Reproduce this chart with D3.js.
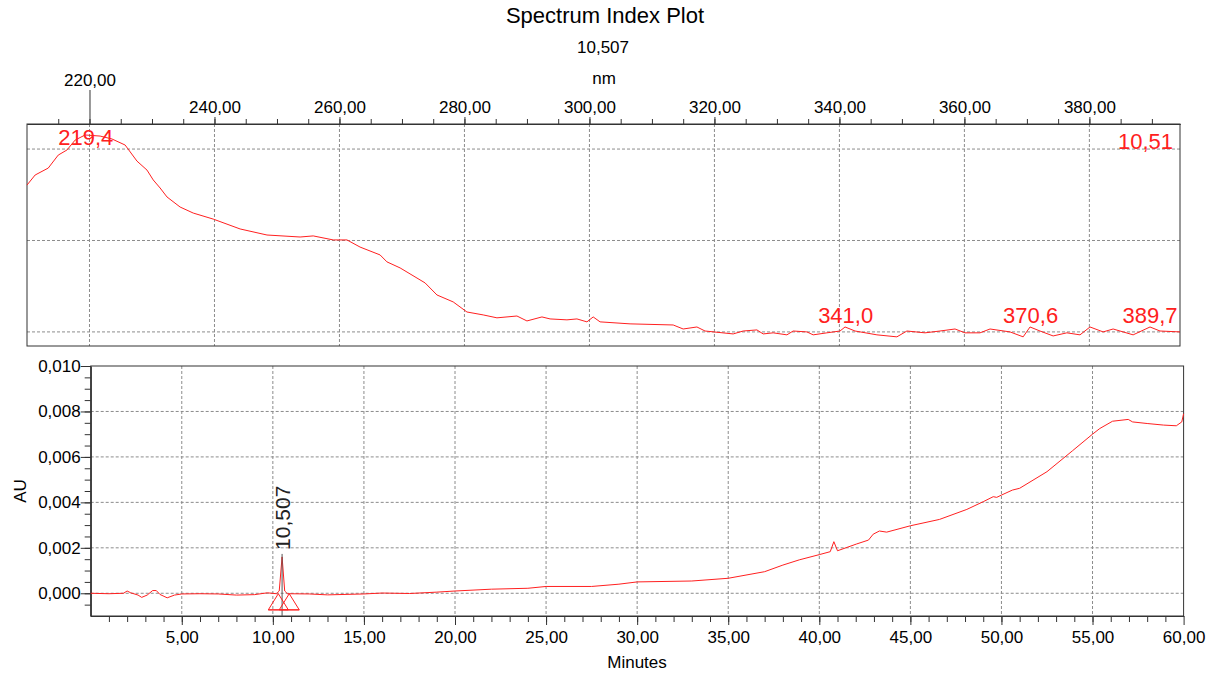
<!DOCTYPE html>
<html>
<head>
<meta charset="utf-8">
<script src="https://cdn.jsdelivr.net/npm/d3@7.9.0/dist/d3.min.js"></script>
<style>
  body { margin: 0; background: #fff; }
  svg { display: block; font-family: "Liberation Sans", Arial, sans-serif; }
  .axis text { font-size: 17px; fill: #000; }
  .axis path, .axis line { stroke: #333; }
  .grid line { stroke: #8c8c8c; stroke-dasharray: 3,2; }
</style>
</head>
<body>
<svg id="chart" width="1216" height="674"></svg>
<script>
// spectrum at 10,507 min (nm, normalised absorbance)
const wavelength = [210.0, 211.3, 213.4, 215.0, 216.4, 217.7, 219.3, 221.7, 223.6, 225.7, 227.6, 229.2, 230.2, 231.3, 232.4, 234.5, 236.6, 239.8, 244.1, 248.4, 253.7, 255.8, 259.0, 261.2, 263.3, 266.5, 267.6, 269.7, 273.7, 275.6, 278.2, 280.4, 283.0, 285.2, 288.4, 290.0, 292.4, 293.7, 296.4, 298.0, 299.6, 300.6, 301.7, 306.5, 313.4, 315.0, 317.2, 318.5, 323.0, 324.6, 326.8, 327.8, 329.4, 331.6, 332.6, 334.8, 335.8, 338.0, 340.1, 340.9, 342.5, 346.0, 349.2, 350.8, 353.7, 356.1, 358.5, 360.1, 362.5, 364.1, 367.3, 369.4, 370.5, 372.1, 374.2, 376.4, 378.5, 380.1, 382.2, 383.8, 387.0, 389.7, 391.3, 394.5];
const absorbance = [0.803, 0.858, 0.896, 0.967, 0.995, 1.049, 1.077, 1.071, 1.055, 1.022, 0.934, 0.885, 0.831, 0.787, 0.738, 0.683, 0.650, 0.617, 0.563, 0.530, 0.519, 0.525, 0.503, 0.503, 0.464, 0.421, 0.383, 0.350, 0.268, 0.202, 0.164, 0.109, 0.093, 0.077, 0.087, 0.060, 0.082, 0.071, 0.066, 0.071, 0.055, 0.082, 0.055, 0.044, 0.038, 0.016, 0.027, 0.005, -0.011, 0.005, 0.011, -0.011, -0.005, -0.016, 0.005, 0.000, -0.016, -0.005, 0.005, 0.027, 0.005, -0.016, -0.027, 0.005, -0.005, 0.005, 0.016, -0.005, -0.005, 0.016, 0.000, -0.027, 0.027, 0.005, -0.022, -0.005, -0.016, 0.027, 0.000, 0.016, -0.016, 0.027, 0.005, 0.000];
const spectrumMaxima = [219.4, 341.0, 370.6, 389.7];
const spectrumTicks = [220, 240, 260, 280, 300, 320, 340, 360, 380];

// chromatogram
const minutes = [0, 1.0, 1.8, 2.0, 2.2, 2.6, 2.8, 3.1, 3.4, 3.6, 3.8, 4.2, 4.6, 5.0, 6.0, 7.0, 8.0, 9.0, 9.7, 10.2, 10.35, 10.507, 10.65, 10.8, 12.0, 13.0, 15.0, 16.0, 17.5, 19.0, 20.0, 22.0, 24.0, 25.0, 27.5, 29.0, 30.0, 33.0, 35.0, 37.0, 38.0, 38.9, 40.0, 40.6, 40.8, 41.0, 42.05, 42.7, 42.96, 43.3, 43.7, 45.0, 46.6, 48.1, 49.0, 49.55, 49.74, 50.0, 50.6, 51.0, 52.5, 53.9, 55.0, 55.4, 56.1, 56.96, 57.2, 58.0, 58.9, 59.6, 59.9, 60.0];
const au = [0.0000, -0.00002, 0.00000, 0.00010, 0.00002, -0.00008, -0.00018, -0.00008, 0.00012, 0.00012, -0.00005, -0.00020, -0.00008, -0.00003, -0.00002, -0.00003, -0.00008, -0.00006, 0.00002, -0.00002, 0.00010, 0.00160, 0.00010, -0.00002, -0.00003, -0.00007, -0.00003, 0.00001, -0.00001, 0.00005, 0.00010, 0.00018, 0.00022, 0.00030, 0.00030, 0.00040, 0.00050, 0.00054, 0.00066, 0.00095, 0.00124, 0.00147, 0.00170, 0.00183, 0.00227, 0.00187, 0.00217, 0.00234, 0.00260, 0.00274, 0.00269, 0.00297, 0.00325, 0.00369, 0.00403, 0.00425, 0.00422, 0.00432, 0.00454, 0.00462, 0.00535, 0.00627, 0.00700, 0.00725, 0.00757, 0.00765, 0.00754, 0.00747, 0.00740, 0.00737, 0.00754, 0.00790];
const auTicks = [0, 0.002, 0.004, 0.006, 0.008, 0.010];
const minuteTicks = [5, 10, 15, 20, 25, 30, 35, 40, 45, 50, 55, 60];
const peakTime = 10.507;
const peakStart = 10.3;
const peakEnd = 10.9;

const comma = (f) => (d) => f(d).replace('.', ',');
const svg = d3.select('#chart');
const red = '#ff2020';

// ---------- spectrum panel ----------
const spec = { left: 27, right: 1180, top: 124, bottom: 346 };
const xNm = d3.scaleLinear().domain([210, 394.5]).range([spec.left, spec.right]);
const yAbs = d3.scaleLinear().domain([-0.077, 1.137]).range([spec.bottom, spec.top]);

const gTop = svg.append('g');
gTop.append('g').attr('class', 'grid')
  .selectAll('line').data(spectrumTicks).join('line')
  .attr('x1', d => xNm(d)).attr('x2', d => xNm(d))
  .attr('y1', spec.top).attr('y2', spec.bottom);
gTop.append('g').attr('class', 'grid')
  .selectAll('line').data([0, 0.5, 1]).join('line')
  .attr('x1', spec.left).attr('x2', spec.right)
  .attr('y1', d => yAbs(d)).attr('y2', d => yAbs(d));

gTop.append('rect')
  .attr('x', spec.left).attr('y', spec.top)
  .attr('width', spec.right - spec.left).attr('height', spec.bottom - spec.top)
  .attr('fill', 'none').attr('stroke', '#333');

gTop.append('g').attr('class', 'axis')
  .attr('transform', `translate(0,${spec.top})`)
  .call(d3.axisTop(xNm).tickValues(d3.range(215, 395, 5)).tickSize(5).tickFormat('').tickSizeOuter(0));
const nmAxis = gTop.append('g').attr('class', 'axis')
  .attr('transform', `translate(0,${spec.top})`)
  .call(d3.axisTop(xNm).tickValues(spectrumTicks).tickSize(7).tickPadding(4)
    .tickFormat(comma(d3.format('.2f'))).tickSizeOuter(0));
nmAxis.selectAll('.tick').filter(d => d === 220)
  .call(t => t.select('line').attr('y2', -34))
  .call(t => t.select('text').attr('y', -38));

gTop.append('path')
  .datum(d3.zip(wavelength, absorbance))
  .attr('fill', 'none').attr('stroke', red).attr('stroke-width', 1)
  .attr('d', d3.line().x(d => xNm(d[0])).y(d => yAbs(d[1])));

gTop.append('g').selectAll('text').data(spectrumMaxima).join('text')
  .attr('x', d => xNm(d))
  .attr('y', d => {
    const i = d3.minIndex(wavelength, w => Math.abs(w - d));
    return Math.max(yAbs(absorbance[i]) - 4, spec.top + 21);
  })
  .attr('text-anchor', 'middle')
  .attr('font-size', 22).attr('fill', red)
  .text(d => d.toFixed(1).replace('.', ','));

gTop.append('text')
  .attr('x', 1173).attr('y', 149)
  .attr('text-anchor', 'end').attr('font-size', 22).attr('fill', red)
  .text(peakTime.toFixed(2).replace('.', ','));

svg.append('text').attr('x', 605).attr('y', 23).attr('text-anchor', 'middle')
  .attr('font-size', 22).text('Spectrum Index Plot');
svg.append('text').attr('x', 603).attr('y', 53).attr('text-anchor', 'middle')
  .attr('font-size', 17).text(peakTime.toFixed(3).replace('.', ','));
svg.append('text').attr('x', 604).attr('y', 84).attr('text-anchor', 'middle')
  .attr('font-size', 17).text('nm');

// ---------- chromatogram panel ----------
const chrom = { left: 90.7, right: 1183.6, top: 366, bottom: 616 };
const xMin = d3.scaleLinear().domain([0, 60]).range([chrom.left, chrom.right]);
const yAU = d3.scaleLinear().domain([-0.001, 0.010]).range([chrom.bottom, chrom.top]);

const gBot = svg.append('g');
gBot.append('g').attr('class', 'grid')
  .selectAll('line').data(minuteTicks.slice(0, -1)).join('line')
  .attr('x1', d => xMin(d)).attr('x2', d => xMin(d))
  .attr('y1', chrom.top).attr('y2', chrom.bottom);
gBot.append('g').attr('class', 'grid')
  .selectAll('line').data(auTicks.slice(0, -1)).join('line')
  .attr('x1', chrom.left).attr('x2', chrom.right)
  .attr('y1', d => yAU(d)).attr('y2', d => yAU(d));

gBot.append('rect')
  .attr('x', chrom.left).attr('y', chrom.top)
  .attr('width', chrom.right - chrom.left).attr('height', chrom.bottom - chrom.top)
  .attr('fill', 'none').attr('stroke', '#333');

gBot.append('g').attr('class', 'axis')
  .attr('transform', `translate(0,${chrom.bottom})`)
  .call(d3.axisBottom(xMin).tickValues(d3.range(1, 60, 1)).tickSize(6).tickFormat('').tickSizeOuter(0));
gBot.append('g').attr('class', 'axis')
  .attr('transform', `translate(0,${chrom.bottom})`)
  .call(d3.axisBottom(xMin).tickValues(minuteTicks).tickSize(9).tickPadding(6)
    .tickFormat(comma(d3.format('.2f'))).tickSizeOuter(0));

gBot.append('g').attr('class', 'axis')
  .attr('transform', `translate(${chrom.left},0)`)
  .call(d3.axisLeft(yAU).tickValues(d3.range(-0.0005, 0.0101, 0.0005)).tickSize(6).tickFormat('').tickSizeOuter(0));
gBot.append('g').attr('class', 'axis')
  .attr('transform', `translate(${chrom.left},0)`)
  .call(d3.axisLeft(yAU).tickValues(auTicks).tickSize(10).tickPadding(0)
    .tickFormat(comma(d3.format('.3f'))).tickSizeOuter(0));

svg.append('text').attr('x', 637).attr('y', 668).attr('text-anchor', 'middle')
  .attr('font-size', 17).text('Minutes');
svg.append('text').attr('transform', 'translate(26,491) rotate(-90)')
  .attr('text-anchor', 'middle').attr('font-size', 17).text('AU');

gBot.append('path')
  .datum(d3.zip(minutes, au))
  .attr('fill', 'none').attr('stroke', red).attr('stroke-width', 1)
  .attr('d', d3.line().x(d => xMin(d[0])).y(d => yAU(d[1])));

// peak marks
const peakAU = au[minutes.indexOf(peakTime)];
gBot.append('line')
  .attr('x1', xMin(peakTime)).attr('x2', xMin(peakTime))
  .attr('y1', yAU(peakAU) - 3).attr('y2', chrom.bottom)
  .attr('stroke', '#555').attr('stroke-width', 1);
const tri = (t) => [[t - 0.55, -0.00073], [t, -0.00002], [t + 0.55, -0.00073]];
gBot.append('g').selectAll('path').data([peakStart, peakEnd]).join('path')
  .attr('d', t => d3.line().x(d => xMin(d[0])).y(d => yAU(d[1]))(tri(t)) + 'Z')
  .attr('fill', 'none').attr('stroke', red).attr('stroke-width', 1);
gBot.append('line')
  .attr('x1', xMin(peakStart - 0.55)).attr('x2', xMin(peakEnd + 0.55))
  .attr('y1', yAU(-0.00073)).attr('y2', yAU(-0.00073))
  .attr('stroke', red).attr('stroke-width', 1);
svg.append('text')
  .attr('transform', `translate(${xMin(peakTime) + 8},${yAU(peakAU) - 7}) rotate(-90)`)
  .attr('font-size', 21).attr('fill', '#222')
  .text(peakTime.toFixed(3).replace('.', ','));
</script>
</body>
</html>
